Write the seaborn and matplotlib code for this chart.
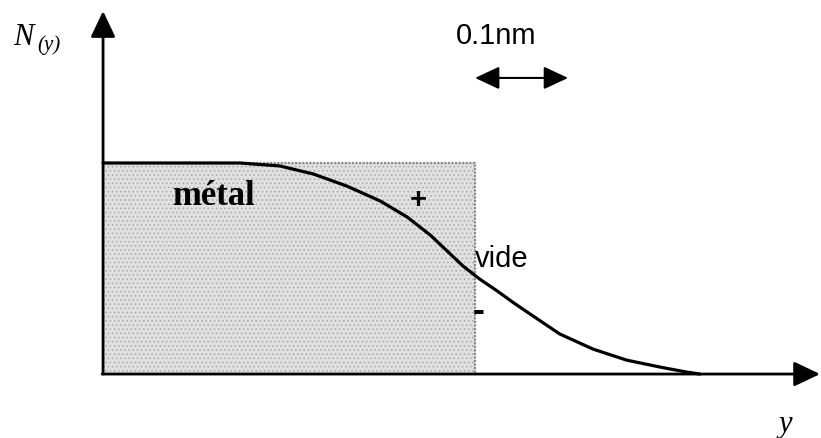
import matplotlib
matplotlib.use("Agg")
import matplotlib.pyplot as plt
import seaborn as sns
import pandas as pd

# ---- data (y in nm, N normalised) ----
curve_y = [0.0, 0.147, 0.190, 0.226, 0.262, 0.298, 0.327, 0.352, 0.370, 0.387,
           0.405, 0.424, 0.441, 0.456, 0.491, 0.527, 0.563, 0.599, 0.628, 0.642]
curve_N = [1.0, 1.0, 0.986, 0.948, 0.891, 0.820, 0.744, 0.658, 0.583, 0.512,
           0.450, 0.393, 0.339, 0.294, 0.190, 0.118, 0.066, 0.033, 0.009, 0.0]
metal_x = [0.0, 0.4]
metal_top = [1.0, 1.0]
scale_bar = [0.4, 0.5]   # 0.1 nm

sns.set_theme(style="white")
plt.rcParams['font.family'] = ['Liberation Sans', 'DejaVu Sans']
plt.rcParams['text.color'] = 'black'
plt.rcParams['hatch.color'] = '#a8a8a8'
plt.rcParams['hatch.linewidth'] = 0.6

fig = plt.figure(figsize=(8.21, 4.39), dpi=100)
ax = fig.add_axes([0, 0, 1, 1])
ax.set_xlim(-0.1108, 0.772)
ax.set_ylim(-0.303, 1.777)
ax.axis('off')

# metal region
ax.fill_between(metal_x, 0, metal_top, facecolor='#e0e0e0', hatch='....',
                edgecolor='#a8a8a8', linewidth=0, zorder=1)
ax.plot([metal_x[0], metal_x[1], metal_x[1]], [metal_top[0], metal_top[1], 0],
        color='#8a8a8a', lw=1.6, ls=(0, (1, 0.6)), zorder=2)

# density curve
df = pd.DataFrame({'y': curve_y, 'N': curve_N})
sns.lineplot(data=df, x='y', y='N', ax=ax, color='black', lw=2.3, sort=False, zorder=4)
ax.set_xlabel('')
ax.set_ylabel('')

# axes arrows
ax.annotate('', xy=(0, 1.72), xytext=(0, 0),
            arrowprops=dict(arrowstyle='-|>,head_length=0.8,head_width=0.38',
                            lw=2.0, color='black', mutation_scale=20,
                            shrinkA=0, shrinkB=0), zorder=5)
ax.annotate('', xy=(0.771, 0), xytext=(-0.001, 0),
            arrowprops=dict(arrowstyle='-|>,head_length=0.8,head_width=0.38',
                            lw=2.0, color='black', mutation_scale=20,
                            shrinkA=0, shrinkB=0), zorder=5)
# scale bar
ax.annotate('', xy=(scale_bar[1], 1.403), xytext=(scale_bar[0], 1.403),
            arrowprops=dict(arrowstyle='<|-|>,head_length=0.75,head_width=0.35',
                            lw=1.5, color='black', mutation_scale=20,
                            shrinkA=0, shrinkB=0))

# texts
ax.text(0.4226, 1.607, '0.1nm', ha='center', va='center', fontsize=21,
        color='black', family=['Liberation Sans', 'DejaVu Sans'])
ax.text(-0.0968, 1.564, 'N', ha='left', va='baseline', fontsize=22, color='black',
        family=['Liberation Serif', 'DejaVu Serif'], style='italic')
ax.text(-0.0710, 1.540, '(y)', ha='left', va='baseline', fontsize=15, color='black',
        family=['Liberation Serif', 'DejaVu Serif'], style='italic')
ax.text(0.734, -0.232, 'y', ha='center', va='center', fontsize=22, color='black',
        family=['Liberation Serif', 'DejaVu Serif'], style='italic')
ax.text(0.0742, 0.848, 'métal', ha='left', va='center', fontsize=25, color='black',
        fontweight='bold', family=['Liberation Serif', 'DejaVu Serif'], zorder=6)
ax.text(0.4, 0.512, 'vide', ha='left', va='baseline', fontsize=21, color='black',
        family=['Liberation Sans', 'DejaVu Sans'], zorder=6)
ax.text(0.3387, 0.829, '+', ha='center', va='center', fontsize=21, color='black',
        fontweight='bold', family=['Liberation Sans', 'DejaVu Sans'], zorder=6)
ax.text(0.4043, 0.300, '-', ha='center', va='center', fontsize=26, color='black',
        fontweight='bold', family=['Liberation Sans', 'DejaVu Sans'], zorder=6)

fig.savefig('out.png', dpi=100)
